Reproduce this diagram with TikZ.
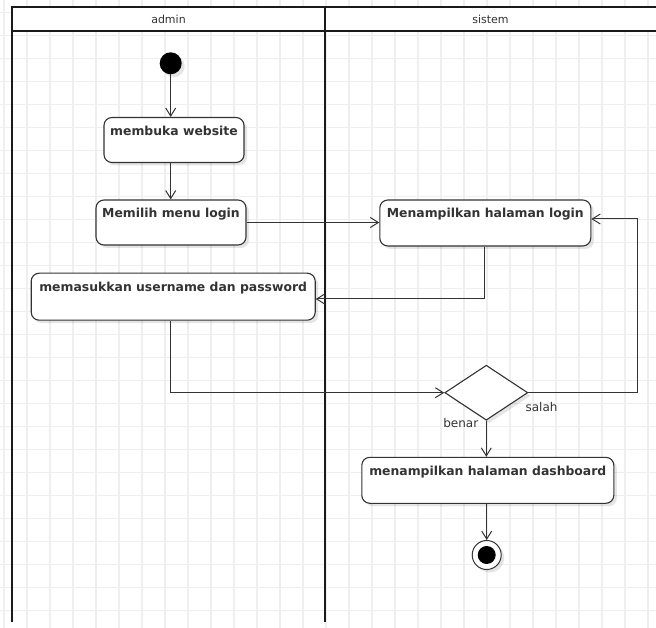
\documentclass[tikz,border=0pt]{standalone}
\usepackage{fontspec}
\setmainfont{DejaVu Sans}
\usetikzlibrary{arrows.meta,shapes.geometric,shadows,calc}
\definecolor{gridc}{HTML}{EFEFEF}
\definecolor{linec}{HTML}{333333}
\definecolor{lanec}{HTML}{1A1A1A}
\begin{document}
\begin{tikzpicture}[x=1pt,y=-1pt,
  shade3/.style={drop shadow={shadow xshift=3pt,shadow yshift=-3pt,opacity=0.10,fill=black}},
  act/.style={draw=linec, line width=1.1pt, fill=white, rounded corners=8pt,
    font=\bfseries\fontsize{12.4}{14}\selectfont, text=linec,
    inner xsep=3pt, inner ysep=6pt, text height=12pt, shade3},
  flow/.style={draw=linec, line width=1pt, -{Straight Barb[length=8pt,width=10pt]}},
  lane/.style={draw=lanec, line width=1.8pt},
  lanetxt/.style={font=\fontsize{11}{13}\selectfont, text=linec, inner sep=0pt},
  guard/.style={font=\fontsize{12}{14}\selectfont, text=linec, inner sep=0pt}]
\useasboundingbox (0,0) rectangle (656,628);
% grid
\begin{scope}
\clip (0,0) rectangle (656,628);
\foreach \i in {0,...,28} \draw[gridc, line width=1.2pt] ({4+23*\i},0) -- ({4+23*\i},628);
\foreach \j in {0,...,26} \draw[gridc, line width=1.2pt] (0,{12.3+23*\j}) -- (656,{12.3+23*\j});
\end{scope}
% swimlanes
\fill[white] (12,7) rectangle (656,31);
\draw[lane] (656,7) -- (12,7) -- (12,622);
\draw[lane] (12,31) -- (656,31);
\draw[lane] (325,7) -- (325,622);
\node[lanetxt] (hadmin) at (168.5,19) {admin};
\node[lanetxt] (hsistem) at (490.5,19) {sistem};
% nodes
\node[circle, fill=black, minimum size=22pt, inner sep=0pt, shade3] (start) at (170.7,63.3) {};
\node[act, minimum width=140pt, minimum height=45pt, text depth=21pt] (b1) at (174,140) {membuka website};
\node[act, minimum width=150pt, minimum height=45pt, text depth=21pt] (b2) at (171,222.5) {Memilih menu login};
\node[act, minimum width=211pt, minimum height=46pt, text depth=22pt] (b3) at (485.3,223) {Menampilkan halaman login};
\node[act, minimum width=284pt, minimum height=47pt, text depth=23pt] (b4) at (173.2,296.7) {memasukkan username dan password};
\node[diamond, draw=linec, line width=1.1pt, fill=white, minimum width=83pt, minimum height=55pt, inner sep=0pt, shade3] (dec) at (486.3,392.7) {};
\node[act, minimum width=252pt, minimum height=46pt, text depth=22pt] (b5) at (487.8,480.3) {menampilkan halaman dashboard};
\node[circle, draw=linec, line width=1pt, fill=white, minimum size=29pt, inner sep=0pt, shade3] (end) at (486.7,555) {};
\node[circle, fill=black, minimum size=18pt, inner sep=0pt] (endin) at (end.center) {};
% guards
\node[guard] (lsalah) at (541.5,406.7) {salah};
\node[guard] (lbenar) at (460.8,423) {benar};
% connectors
\coordinate (c1) at (484,299);
\coordinate (c2) at (170.7,392.7);
\coordinate (c3) at (637.7,219);
\draw[flow] (start) -- (start |- b1.north);
\draw[flow] (start |- b1.south) -- (start |- b2.north);
\draw[flow] (b2.east) -- (b2.east -| b3.west);
\draw[flow] (b3.south -| c1) |- (b4.east |- c1);
\draw[flow] (b4.south -| c2) |- (dec.west);
\draw[flow] (dec.east) -| (c3) -- (b3.east |- c3);
\draw[flow] (dec.south) -- (dec.south |- b5.north);
\draw[flow] (end |- b5.south) -- (end.north);
\end{tikzpicture}
\end{document}
